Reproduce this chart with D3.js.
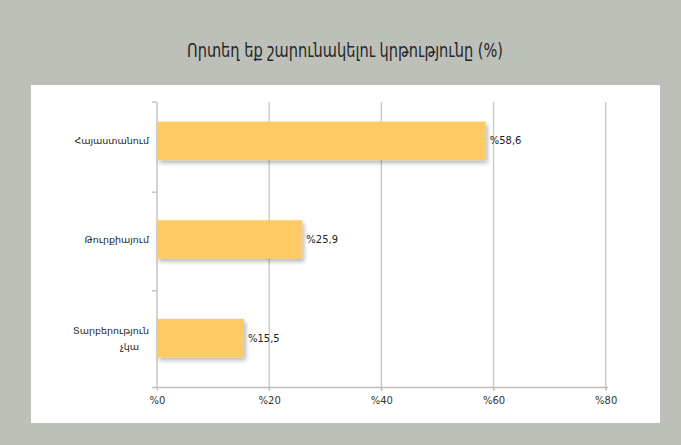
<!DOCTYPE html>
<html>
<head>
<meta charset="utf-8">
<script src="https://cdn.jsdelivr.net/npm/d3@7"></script>
<style>
html,body{margin:0;padding:0;background:#bcc0b9;}
svg{display:block;}
</style>
</head>
<body>
<svg id="chart" width="681" height="445"></svg>
<script>
const categories = ["Հայաստանում", "Թուրքիայում", "Տարբերություն չկա"];
const categoryLines = [["Հայաստանում"], ["Թուրքիայում"], ["Տարբերություն", "չկա"]];
const values = [58.6, 25.9, 15.5];
const valueLabels = ["%58,6", "%25,9", "%15,5"];
const xTicks = [0, 20, 40, 60, 80];
const xTickLabels = ["%0", "%20", "%40", "%60", "%80"];
const title = "Որտեղ եք շարունակելու կրթությունը (%)";

const svg = d3.select("#chart");
const W = 681, H = 445;
svg.append("rect").attr("width", W).attr("height", H).attr("fill", "#bcc0b9");
svg.append("rect").attr("x", 31).attr("y", 85).attr("width", 629).attr("height", 338).attr("fill", "#ffffff");

const defs = svg.append("defs");
const f = defs.append("filter").attr("id", "sh").attr("x", "-10%").attr("y", "-20%").attr("width", "130%").attr("height", "160%");
f.append("feDropShadow").attr("dx", 2).attr("dy", 3).attr("stdDeviation", 2.2).attr("flood-color", "#000").attr("flood-opacity", 0.28);

const x = d3.scaleLinear().domain([0, 80]).range([157, 605.7]);
const y = d3.scaleBand().domain(categories).range([91.5, 387.5]).paddingInner(0.61).paddingOuter(0.305);
const plotTop = 102, plotBottom = 387.5;

// gridlines
svg.append("g").selectAll("line").data(xTicks.slice(1)).join("line")
  .attr("x1", d => x(d)).attr("x2", d => x(d))
  .attr("y1", plotTop).attr("y2", plotBottom + 3)
  .attr("stroke", "#c6c6c6").attr("stroke-width", 1.3);

// x axis
const xAxis = d3.axisBottom(x).tickValues(xTicks).tickFormat((d, i) => xTickLabels[i]).tickSize(3).tickPadding(6);
const gx = svg.append("g").attr("transform", `translate(0,${plotBottom})`).call(xAxis);
gx.select(".domain").remove();
gx.selectAll(".tick line").attr("stroke", "#bdbdbd").attr("stroke-width", 1.3);
gx.selectAll("text").attr("font-family", "DejaVu Sans").attr("font-size", 10).attr("fill", "#333");
svg.append("line").attr("x1", 154).attr("x2", 608).attr("y1", plotBottom).attr("y2", plotBottom)
  .attr("stroke", "#bdbdbd").attr("stroke-width", 1.3);

// y axis line and ticks
const yTickPos = [plotTop, y(categories[1]) - y.step() * y.paddingInner() / 2 + 2, y(categories[2]) - y.step() * y.paddingInner() / 2 + 2, plotBottom];
svg.append("line").attr("x1", 157).attr("x2", 157).attr("y1", plotTop).attr("y2", plotBottom)
  .attr("stroke", "#bdbdbd").attr("stroke-width", 1.3);
svg.append("g").selectAll("line").data(yTickPos).join("line")
  .attr("x1", 152).attr("x2", 157).attr("y1", d => d).attr("y2", d => d)
  .attr("stroke", "#bdbdbd").attr("stroke-width", 1.3);

// bars
svg.append("g").selectAll("rect").data(values).join("rect")
  .attr("x", x(0)).attr("y", (d, i) => y(categories[i]))
  .attr("width", d => x(d) - x(0)).attr("height", y.bandwidth())
  .attr("fill", "#fdca64").attr("filter", "url(#sh)");

// value labels
svg.append("g").selectAll("text").data(values).join("text")
  .attr("x", d => x(d) + 4).attr("y", (d, i) => y(categories[i]) + y.bandwidth() / 2 + 3.5)
  .attr("font-family", "DejaVu Sans").attr("font-size", 10).attr("fill", "#222")
  .text((d, i) => valueLabels[i]);

// category labels
const cl = svg.append("g").selectAll("text").data(categories).join("text")
  .attr("font-family", "DejaVu Sans").attr("font-size", 9.5).attr("fill", "#222")
  .attr("text-anchor", "end")
  .attr("x", 149)
  .attr("y", (d, i) => y(d) + y.bandwidth() / 2 + 3.5 - (categoryLines[i].length - 1) * 8);
cl.each(function(d, i) {
  const t = d3.select(this);
  categoryLines[i].forEach((ln, j) => {
    t.append("tspan").attr("x", j === 0 ? 149 : 139).attr("dy", j === 0 ? 0 : 16).text(ln);
  });
});

// title
svg.append("text").attr("x", 345).attr("y", 57).attr("text-anchor", "middle")
  .attr("font-family", "DejaVu Sans").attr("font-size", 20).attr("fill", "#262626")
  .attr("textLength", 316).attr("lengthAdjust", "spacingAndGlyphs")
  .text(title);
</script>
</body>
</html>
